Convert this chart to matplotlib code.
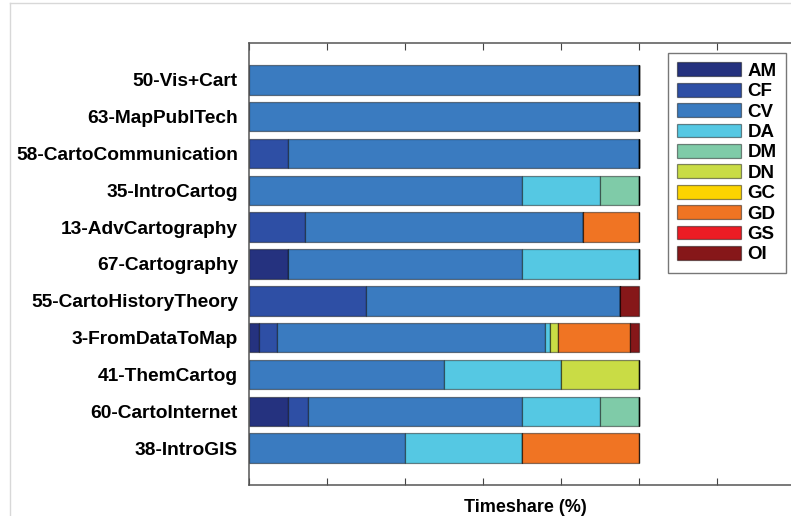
import numpy as np
import matplotlib.pyplot as plt
from matplotlib.lines import Line2D

plt.rcParams['font.family'] = ['Liberation Sans', 'DejaVu Sans']

# courses, top to bottom
courses = ['50-Vis+Cart', '63-MapPublTech', '58-CartoCommunication', '35-IntroCartog',
           '13-AdvCartography', '67-Cartography', '55-CartoHistoryTheory', '3-FromDataToMap',
           '41-ThemCartog', '60-CartoInternet', '38-IntroGIS']

categories = ['AM', 'CF', 'CV', 'DA', 'DM', 'DN', 'GC', 'GD', 'GS', 'OI']
colors = ['#25327f', '#2e4fa5', '#3a7bc0', '#55c8e3', '#7fcba8',
          '#c9dc45', '#fcd400', '#f07423', '#ec1c24', '#861719']

# timeshare (%) per category, one list per course (same order as courses)
AM = [0, 0, 0, 0, 0, 10, 0, 2.6, 0, 10, 0]
CF = [0, 0, 10, 0, 14.3, 0, 30, 4.5, 0, 5, 0]
CV = [100, 100, 90, 70, 71.4, 60, 65, 68.8, 50, 55, 40]
DA = [0, 0, 0, 20, 0, 30, 0, 1.3, 30, 20, 30]
DM = [0, 0, 0, 10, 0, 0, 0, 0, 0, 10, 0]
DN = [0, 0, 0, 0, 0, 0, 0, 2.1, 20, 0, 0]
GC = [0, 0, 0, 0, 0, 0, 0, 0, 0, 0, 0]
GD = [0, 0, 0, 0, 14.3, 0, 0, 18.3, 0, 0, 30]
GS = [0, 0, 0, 0, 0, 0, 0, 0, 0, 0, 0]
OI = [0, 0, 0, 0, 0, 0, 5, 2.4, 0, 0, 0]
shares = [AM, CF, CV, DA, DM, DN, GC, GD, GS, OI]

fig = plt.figure(figsize=(7.91, 5.16), dpi=100)
ax = fig.add_axes([249 / 791, 1 - 485 / 516, (795 - 249) / 791, (485 - 43) / 516])

# light frame of the original window
fig.add_artist(Line2D([10 / 791, 10 / 791], [0, 1 - 3 / 516], color='#d8d8d8', lw=1))
fig.add_artist(Line2D([10 / 791, 1], [1 - 3 / 516, 1 - 3 / 516], color='#d8d8d8', lw=1))

y = np.arange(len(courses), 0, -1)
left = np.zeros(len(courses))
for name, vals, col in zip(categories, shares, colors):
    vals = np.array(vals, dtype=float)
    ax.barh(y, vals, left=left, height=0.8, color=col, label=name,
            edgecolor=(0, 0, 0, 0.45), linewidth=0.9)
    left += vals

ax.set_xlim(0, 140)
ax.set_ylim(0, 12)
ax.set_xticks(np.arange(0, 141, 20))
ax.set_xticklabels([])
ax.set_yticks(y)
ax.set_yticklabels(courses, fontsize=13.8, fontweight='bold')
ax.tick_params(axis='y', length=0, pad=8)
ax.tick_params(axis='x', direction='in', length=5, top=True, color='#444444', pad=0)
for s in ax.spines.values():
    s.set_color('#555555')
    s.set_linewidth(1.1)
ax.set_xlabel('Timeshare (%)', fontsize=13, fontweight='bold', labelpad=10)
ax.xaxis.label.set_position(((525 - 249) / (795 - 249), 0))

leg = ax.legend(loc='upper left', bbox_to_anchor=(668 / 791, 1 - 53 / 516),
                bbox_transform=fig.transFigure, borderaxespad=0, fancybox=False,
                edgecolor='#555555', handlelength=3.4, handleheight=0.75,
                labelspacing=0.16, borderpad=0.5, handletextpad=0.35,
                prop={'weight': 'bold', 'size': 13.5})
leg.get_frame().set_linewidth(1.0)

fig.savefig('out.png', dpi=100)
